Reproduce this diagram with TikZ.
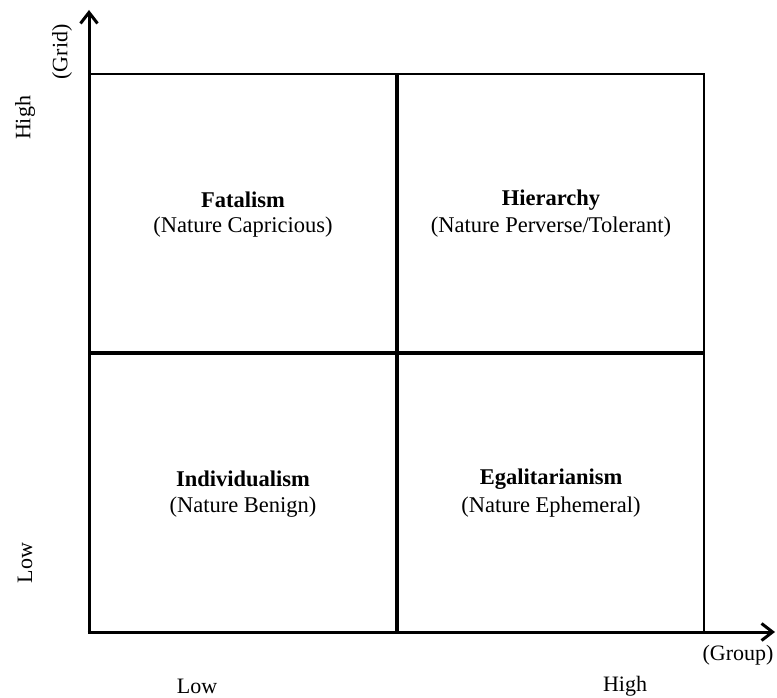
\documentclass[tikz,border=0pt]{standalone}
\usepackage{fontspec}
\setmainfont{Liberation Serif}
\usetikzlibrary{arrows.meta}
\begin{document}
\begin{tikzpicture}[x=1pt,y=-1pt,
  axis/.style={line width=3pt,-{Straight Barb[length=11pt,width=17pt,line width=3pt]}},
  border/.style={line width=2.4pt},
  divider/.style={line width=3.8pt},
  title/.style={font=\fontsize{22.5}{26}\selectfont\bfseries},
  sub/.style={font=\fontsize{22.5}{26}\selectfont},
  lab/.style={font=\fontsize{22}{26}\selectfont}]
\useasboundingbox (0,0) rectangle (777,698);
\coordinate (O) at (89,632);
\coordinate (ytip) at (89,10);
\coordinate (xtip) at (775,632);
\coordinate (TL) at (89,74);
\coordinate (TR) at (704,74);
\coordinate (BR) at (704,632);
\coordinate (MT) at (397,74);
\coordinate (MB) at (397,632);
\coordinate (ML) at (89,353);
\coordinate (MR) at (704,353);
\draw[border] (TL) -- (TR) -- (BR);
\draw[divider] (MT) -- (MB);
\draw[divider] (ML) -- (MR);
\draw[axis] (O) -- (ytip);
\draw[axis] ([xshift=-1.5pt]O) -- (xtip);
\node[title] (fat) at (243,200) {Fatalism};
\node[sub] (fatS) at (243,227) {(Nature Capricious)};
\node[title] (hie) at (551,200) {Hierarchy};
\node[sub] (hieS) at (551,227) {(Nature Perverse/Tolerant)};
\node[title] (ind) at (243,479) {Individualism};
\node[sub] (indS) at (243,507) {(Nature Benign)};
\node[title] (ega) at (551,479) {Egalitarianism};
\node[sub] (egaS) at (551,507) {(Nature Ephemeral)};
\node[lab,rotate=90] (yhigh) at (25,118) {High};
\node[lab,rotate=90] (grid) at (62,52) {(Grid)};
\node[lab,rotate=90] (ylow) at (25,563) {Low};
\node[lab] (group) at (738,655) {(Group)};
\node[lab] (xlow) at (197,686) {Low};
\node[lab] (xhigh) at (625,686) {High};
\end{tikzpicture}
\end{document}
